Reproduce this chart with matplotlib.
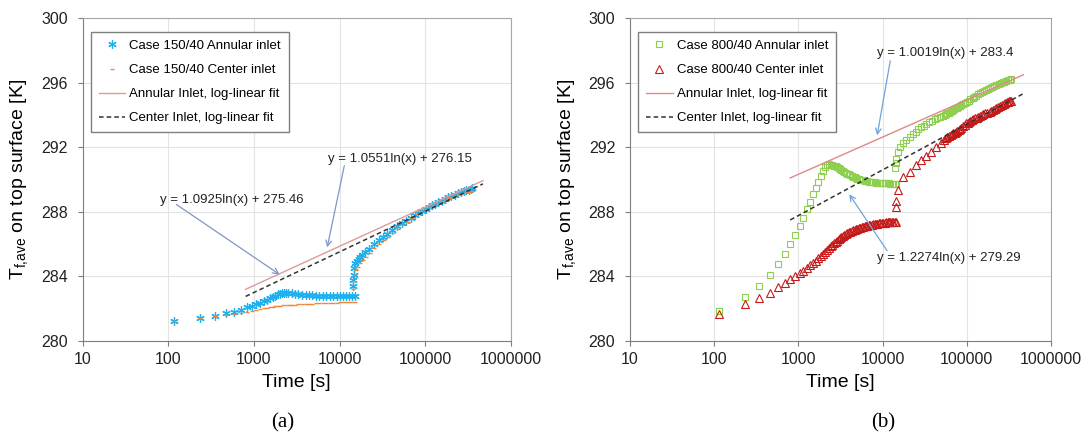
import numpy as np
import matplotlib
matplotlib.use('Agg')
import matplotlib.pyplot as plt
from matplotlib.ticker import FixedLocator, FuncFormatter

plt.rcParams["font.family"] = ["Liberation Sans", "DejaVu Sans"]
plt.rcParams["mathtext.fontset"] = "custom"
plt.rcParams["mathtext.rm"] = "Liberation Sans"

# ---- panel (a): case 150/40 ----
a_ann_t1 = [118, 236, 354, 472, 590, 708, 826, 944, 1062, 1180, 1300, 1420, 1540, 1660,
            1780, 1900, 2020, 2140, 2260, 2380, 2500, 2750, 3000, 3300, 3600, 4000, 4400,
            4800, 5300, 5800, 6400, 7000, 7700, 8400, 9200, 10000, 11000, 12000, 13000,
            14000, 15000]
a_ann_T1 = [281.26, 281.44, 281.57, 281.71, 281.81, 281.95, 282.08, 282.18, 282.28, 282.38,
            282.47, 282.56, 282.65, 282.73, 282.81, 282.88, 282.94, 282.98, 283.0, 283.0,
            282.98, 282.95, 282.92, 282.89, 282.87, 282.85, 282.83, 282.82, 282.81, 282.8,
            282.79, 282.78, 282.78, 282.77, 282.77, 282.77, 282.77, 282.77, 282.77, 282.77,
            282.77]
a_ann_t2 = [14200, 14400, 14600, 14900, 15300, 15800, 16700, 17500, 18300, 20000, 21900,
            25000, 28700, 32000, 36000, 41000, 47100, 53000, 60000, 67600, 75000, 83000,
            92000, 101000, 110000, 120000, 130000, 142000, 155000, 170000, 185000, 200000,
            220000, 240000, 260000, 280000, 300000, 320000, 340000, 355000]
a_ann_T2 = [283.4, 283.8, 284.1, 284.5, 284.8, 284.95, 285.1, 285.2, 285.3, 285.5, 285.7,
            286.0, 286.25, 286.45, 286.65, 286.9, 287.1, 287.3, 287.45, 287.62, 287.78,
            287.92, 288.05, 288.2, 288.3, 288.4, 288.5, 288.6, 288.7, 288.8, 288.9, 288.98,
            289.07, 289.15, 289.22, 289.28, 289.33, 289.38, 289.42, 289.45]

a_cen_t1 = [118, 236, 354, 472, 590, 708, 826, 944, 1062, 1180, 1300, 1420, 1540, 1660,
            1780, 1900, 2020, 2200, 2400, 2600, 2800, 3000, 3300, 3600, 4000, 4400, 4800,
            5300, 5800, 6400, 7000, 7700, 8400, 9200, 10000, 11000, 12000, 13000, 14000,
            15000]
a_cen_T1 = [281.26, 281.43, 281.55, 281.64, 281.7, 281.76, 281.82, 281.88, 281.94, 281.98,
            282.02, 282.06, 282.09, 282.12, 282.14, 282.16, 282.18, 282.2, 282.22, 282.24,
            282.25, 282.26, 282.28, 282.29, 282.3, 282.31, 282.32, 282.33, 282.34, 282.35,
            282.36, 282.37, 282.38, 282.38, 282.39, 282.4, 282.4, 282.41, 282.41, 282.42]
a_cen_t2 = [14300, 14600, 15000, 15500, 16300, 17200, 18500, 20500, 22500, 25500, 29000,
            33000, 37000, 42000, 48000, 55000, 62000, 70000, 80000, 90000, 100000, 112000,
            125000, 140000, 155000, 172000, 190000, 210000, 230000, 255000, 280000, 305000,
            330000, 355000]
a_cen_T2 = [283.2, 283.7, 284.1, 284.4, 284.6, 284.8, 285.0, 285.2, 285.45, 285.75, 286.0,
            286.25, 286.45, 286.7, 286.95, 287.2, 287.4, 287.6, 287.85, 288.02, 288.15,
            288.3, 288.42, 288.55, 288.66, 288.76, 288.85, 288.94, 289.02, 289.1, 289.15,
            289.2, 289.23, 289.27]

# ---- panel (b): case 800/40 ----
# first period, shared by both inlets
b_t1 = [115, 230, 345, 460, 575, 690, 805, 920, 1035, 1150, 1265, 1380, 1495, 1610,
        1725, 1840, 1955, 2070, 2185, 2300, 2415, 2530, 2645, 2760, 2875, 3000, 3120,
        3250, 3380, 3520, 3660, 3810, 3960, 4120, 4290, 4460, 4640, 4830, 5020, 5220,
        5430, 5650, 5880, 6110, 6360, 6610, 6880, 7150, 7440, 7740, 8050, 8370, 8700,
        9050, 9410, 9790, 10180, 10590, 11010, 11450, 11910, 12390, 12880, 13400, 13930,
        14550]
b_ann_T1 = [281.85, 282.7, 283.42, 284.1, 284.77, 285.4, 286.0, 286.56, 287.1, 287.63,
            288.15, 288.63, 289.1, 289.5, 289.86, 290.2, 290.55, 290.8, 290.93, 290.96,
            290.93, 290.9, 290.86, 290.82, 290.77, 290.72, 290.66, 290.6, 290.54, 290.48,
            290.42, 290.37, 290.32, 290.27, 290.22, 290.18, 290.14, 290.1, 290.06, 290.03,
            290.0, 289.97, 289.95, 289.93, 289.91, 289.89, 289.87, 289.86, 289.84, 289.83,
            289.82, 289.81, 289.8, 289.79, 289.78, 289.78, 289.77, 289.77, 289.76, 289.76,
            289.76, 289.75, 289.75, 289.75, 289.75, 289.75]
b_cen_T1 = [281.7, 282.27, 282.64, 283.0, 283.32, 283.57, 283.82, 284.02, 284.2, 284.36,
            284.52, 284.68, 284.84, 284.98, 285.12, 285.26, 285.39, 285.52, 285.64, 285.76,
            285.86, 285.96, 286.05, 286.13, 286.21, 286.29, 286.36, 286.43, 286.5, 286.56,
            286.62, 286.67, 286.72, 286.77, 286.81, 286.85, 286.89, 286.93, 286.96, 286.99,
            287.02, 287.05, 287.08, 287.1, 287.13, 287.15, 287.17, 287.19, 287.21, 287.23,
            287.24, 287.26, 287.27, 287.29, 287.3, 287.31, 287.32, 287.33, 287.34, 287.35,
            287.36, 287.37, 287.38, 287.38, 287.39, 287.4]

b_ann_t2 = [14000, 14300, 14600, 15200, 16200, 17400, 19000, 20900, 22800, 24600, 26600,
            28800, 31000, 33000, 35500, 38500, 41500, 44800, 48500, 52000, 54500, 56500,
            59000, 61000, 63500, 66000, 68500, 71000, 73500, 76000, 79000, 82000, 86000,
            90000, 95000, 100000, 105000, 110000, 117000, 123000, 130000, 137000, 145000,
            152000, 160000, 170000, 180000, 190000, 200000, 212000, 225000, 238000, 252000,
            266000, 280000, 295000, 310000, 323000, 336000]
b_ann_T2 = [290.7, 291.0, 291.25, 291.72, 292.0, 292.24, 292.45, 292.65, 292.82, 292.96,
            293.1, 293.23, 293.34, 293.44, 293.55, 293.64, 293.72, 293.8, 293.88, 293.96,
            294.01, 294.06, 294.11, 294.15, 294.2, 294.25, 294.3, 294.35, 294.4, 294.45,
            294.5, 294.55, 294.61, 294.68, 294.76, 294.83, 294.89, 294.96, 295.05, 295.12,
            295.2, 295.27, 295.35, 295.41, 295.48, 295.55, 295.61, 295.67, 295.72, 295.78,
            295.84, 295.9, 295.96, 296.01, 296.06, 296.1, 296.14, 296.17, 296.2]
b_cen_t2 = [14300, 14500, 15200, 17400, 20900, 25000, 28800, 33000, 38000, 43600, 49500,
            53000, 56500, 59000, 62000, 64500, 67000, 69000, 71600, 74000, 77000, 80000,
            83000, 86500, 90000, 94000, 98000, 102000, 106000, 110000, 115000, 120000,
            125000, 131000, 137000, 143000, 150000, 157000, 165000, 175000, 187000, 196000,
            205000, 215000, 225000, 237000, 250000, 262000, 275000, 287000, 300000, 310000,
            320000, 328000, 336000]
b_cen_T2 = [288.32, 288.69, 289.35, 290.13, 290.48, 290.9, 291.2, 291.46, 291.72, 292.0,
            292.28, 292.42, 292.55, 292.62, 292.68, 292.74, 292.8, 292.85, 292.9, 292.96,
            293.02, 293.08, 293.15, 293.22, 293.3, 293.39, 293.48, 293.53, 293.58, 293.63,
            293.68, 293.73, 293.78, 293.84, 293.9, 293.95, 294.0, 294.05, 294.1, 294.15,
            294.2, 294.27, 294.33, 294.39, 294.45, 294.51, 294.57, 294.63, 294.68, 294.73,
            294.78, 294.81, 294.84, 294.86, 294.88]

# log-linear trendlines (slope, intercept) as printed on the chart
fit_t = [800, 470000]
a_fit_ann = (1.0551, 276.15)
a_fit_cen = (1.0925, 275.46)
b_fit_ann = (1.0019, 283.4)
b_fit_cen = (1.2274, 279.29)

fig = plt.figure(figsize=(10.88, 4.4), dpi=100)
ax_a = fig.add_axes([0.0759, 0.225, 0.3938, 0.734])
ax_b = fig.add_axes([0.579, 0.225, 0.387, 0.734])


def style_axes(ax):
    ax.set_xscale('log')
    ax.set_xlim(10, 1e6)
    ax.set_ylim(280, 300)
    ax.xaxis.set_major_locator(FixedLocator([10, 100, 1000, 10000, 100000, 1000000]))
    ax.xaxis.set_minor_locator(FixedLocator([]))
    ax.xaxis.set_major_formatter(FuncFormatter(lambda v, p: '%d' % v))
    ax.set_yticks(np.arange(280, 301, 4))
    ax.grid(True, color='#e3e3e3', lw=0.8)
    ax.set_axisbelow(True)
    for s in ['left', 'bottom']:
        ax.spines[s].set_color('#7f7f7f')
    for s in ['top', 'right']:
        ax.spines[s].set_color('#a6a6a6')
    ax.tick_params(axis='both', direction='out', length=3.6, color='#7f7f7f',
                   labelsize=11.5, labelcolor='#222222')
    ax.tick_params(axis='y', pad=7)
    ax.tick_params(axis='x', pad=4)
    ax.set_xlabel('Time [s]', fontsize=14, labelpad=5)
    ax.set_ylabel(r'T$_\mathregular{f{,}ave}$ on top surface [K]', fontsize=14, labelpad=7)


def fit_line(ax, coef, **kw):
    x = np.array(fit_t, dtype=float)
    ax.plot(x, coef[0] * np.log(x) + coef[1], **kw)


# panel a
ax = ax_a
style_axes(ax)
ax.plot(a_ann_t1 + a_ann_t2, a_ann_T1 + a_ann_T2, ls='none', marker=(6, 2, 0), ms=6,
        mew=0.9, color='#1fb0ee', label='Case 150/40 Annular inlet')
ax.plot(a_cen_t1 + a_cen_t2, a_cen_T1 + a_cen_T2, ls='none', marker='_', ms=3.5,
        mew=1.0, color='#f0883a', label='Case 150/40 Center inlet')
fit_line(ax, a_fit_ann, color='#e09a98', lw=1.0, label='Annular Inlet, log-linear fit')
fit_line(ax, a_fit_cen, color='#333333', lw=1.1, ls=(0, (3, 2)),
         label='Center Inlet, log-linear fit')
arrow_a = dict(arrowstyle='->', color='#8096c8', lw=0.9)
ax.text(80, 288.73, 'y = 1.0925ln(x) + 275.46', fontsize=9.5, va='center', color='#222222')
ax.annotate('', xy=(2120, 284.02), xytext=(117, 288.55), arrowprops=arrow_a)
ax.text(7280, 291.27, 'y = 1.0551ln(x) + 276.15', fontsize=9.5, va='center', color='#222222')
ax.annotate('', xy=(7050, 285.63), xytext=(11500, 291.02), arrowprops=arrow_a)

# panel b
ax = ax_b
style_axes(ax)
ax.plot(b_t1 + b_ann_t2, b_ann_T1 + b_ann_T2, ls='none', marker='s', ms=5,
        mfc='none', mew=0.8, color='#8fcf4f', label='Case 800/40 Annular inlet')
ax.plot(b_t1 + b_cen_t2, b_cen_T1 + b_cen_T2, ls='none', marker='^', ms=5.5,
        mfc='none', mew=0.8, color='#c41a1a', label='Case 800/40 Center inlet')
fit_line(ax, b_fit_ann, color='#dd8a88', lw=1.0, label='Annular Inlet, log-linear fit')
fit_line(ax, b_fit_cen, color='#333333', lw=1.1, ls=(0, (3, 2)),
         label='Center Inlet, log-linear fit')
arrow_b = dict(arrowstyle='->', color='#6fa3d8', lw=0.9)
ax.text(8510, 297.83, 'y = 1.0019ln(x) + 283.4', fontsize=9.5, va='center', color='#222222')
ax.annotate('', xy=(8510, 292.57), xytext=(12500, 297.52), arrowprops=arrow_b)
ax.text(8510, 285.14, 'y = 1.2274ln(x) + 279.29', fontsize=9.5, va='center', color='#222222')
ax.annotate('', xy=(3850, 289.23), xytext=(11800, 285.45), arrowprops=arrow_b)

for ax in (ax_a, ax_b):
    leg = ax.legend(loc='upper left', bbox_to_anchor=(0.02, 0.957), borderaxespad=0,
                    fontsize=9.5, numpoints=1, handlelength=2.0, handletextpad=0.3,
                    labelspacing=0.9, borderpad=0.6, fancybox=False, framealpha=1)
    leg.get_frame().set_edgecolor('#7f7f7f')
    leg.get_frame().set_linewidth(1.0)

fig.text(0.26, 0.0386, '(a)', family='Liberation Serif', fontsize=15, ha='center', va='center')
fig.text(0.812, 0.0386, '(b)', family='Liberation Serif', fontsize=15, ha='center', va='center')

fig.savefig('out.png', dpi=100)
